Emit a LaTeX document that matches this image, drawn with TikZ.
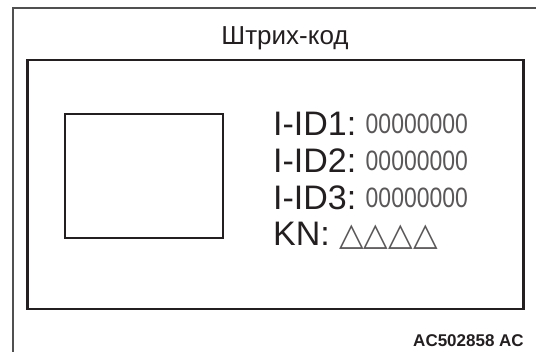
\documentclass[tikz,border=0pt]{standalone}
\usepackage{fontspec}
\setmainfont{Liberation Sans}
\newfontfamily\trifont{DejaVu Sans}
\usetikzlibrary{positioning}
\definecolor{lInk}{HTML}{231F20}
\definecolor{lFrame}{HTML}{505050}

\begin{document}
\begin{tikzpicture}[x=1pt, y=-1pt,
    frame/.style={draw=lInk, line width=2.4pt},
    idlabel/.style={anchor=base west, inner sep=0pt, text=lInk, font=\fontsize{34}{34}\selectfont},
    idvalue/.style={inner sep=0pt, text=lInk!75, font=\fontsize{28}{28}\selectfont}]
  \useasboundingbox (0,0) rectangle (536,352);
  \draw[lFrame, line width=1.3pt] (13,352) -- (13,8) -- (536,8);
  \node[anchor=base, inner sep=0pt, text=lInk, font=\fontsize{26}{26}\selectfont] (title) at (285,45) {Штрих-код};
  \draw[frame] (27.5,60) rectangle (523.5,309);
  \draw[frame, line width=2.2pt] (65,114) rectangle (223,238);
  \foreach \n/\yb in {1/136, 2/173, 3/210} {
    \node[idlabel] (id\n) at (273,\yb) {I-ID\n:};
    \node[idvalue, right=9pt of id\n.base east, anchor=base west, yshift=2.5pt] (val\n) {\scalebox{0.82}[1]{00000000}};
  }
  \node[idlabel] (kn) at (273,246) {KN:};
  \node[idvalue, font=\trifont\fontsize{32}{32}\selectfont, right=9pt of kn.base east, anchor=base west] (marks) {△△△△};
  \node[anchor=base east, inner sep=0pt, text=lInk, font=\bfseries\fontsize{17}{17}\selectfont] (code) at (524,347) {AC502858 AC};
\end{tikzpicture}
\end{document}
